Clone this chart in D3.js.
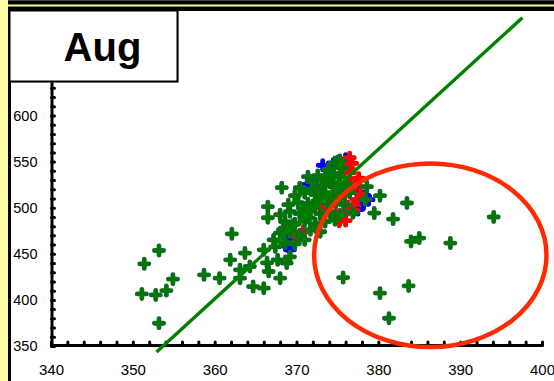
<!DOCTYPE html>
<html><head><meta charset="utf-8">
<script src="https://cdn.jsdelivr.net/npm/d3@7"></script>
<style>html,body{margin:0;padding:0;background:#fff;overflow:hidden}text{font-family:"Liberation Sans",Arial,sans-serif}</style>
</head><body><svg id="c" width="554" height="381"></svg>
<script>
// Monthly scatter: three station series against the reference variable
const monthLabel = "Aug";
const xTicks = [340, 350, 360, 370, 380, 390, 400];
const yTicks = [350, 400, 450, 500, 550, 600];

const seriesBlue = [
  [375.1,550.0],[373.9,543.5],[378.8,508.7],[378.4,512.3],[369.0,457.9],[372.5,530.4],
  [369.2,454.3],[369.0,466.8],[374.5,547.0],[377.6,517.0],[371.3,525.0],[376.0,552.5],[377.5,498.0],
  [373.2,546.0],[378.2,504.0]
];
const seriesRed = [
  [376.5,554.3],[374.1,538.0],[376.5,538.0],[376.5,527.2],[376.3,501.1],[375.0,490.2],[377.4,508.7],
  [372.5,519.6],[370.1,468.5],[375.9,514.0],[377.2,525.0],[375.6,546.7],[374.8,492.4],[373.5,530.4],
  [370.8,473.9],[376.0,486.0],[377.0,497.0],[373.0,500.0],[375.0,520.0],[374.0,510.0],[376.5,541.3],
  [375.3,487.0],[375.2,485.5],[377.6,532.0],[377.8,515.0],[376.8,548.0],[377.0,503.0],[375.8,493.0]
];
const seriesGreen = [
  // main cluster
  [374.7,548.9],[375.3,551.1],[373.9,541.3],[375.6,543.0],
  [372.6,534.8],[373.5,532.6],[374.5,537.0],[375.3,533.7],[371.4,533.7],
  [370.4,521.7],[371.9,528.3],[373.1,523.9],[374.1,527.2],[375.1,523.9],[376.1,526.1],[368.2,521.7],
  [369.8,513.0],[371.0,516.3],[372.3,514.1],[373.5,516.3],[374.5,513.0],[375.6,515.2],[376.5,516.3],
  [369.0,503.3],[370.2,505.4],[371.4,504.3],[372.6,507.6],[373.9,504.3],[374.8,506.5],[375.9,503.3],[378.4,508.7],
  [368.0,492.4],[369.2,495.7],[370.4,493.5],[371.7,496.7],[372.9,493.5],[374.1,495.7],[375.3,492.4],[366.5,489.1],[366.5,501.1],
  [368.6,484.8],[369.8,482.6],[371.0,485.9],[372.3,482.6],[373.5,484.8],[374.7,487.0],[376.9,494.6],
  [368.0,472.8],[369.2,473.9],[370.4,470.7],[371.7,476.1],[372.9,473.9],
  [368.6,462.0],[369.8,460.9],[367.4,457.6],[371.0,465.2],
  [368.35,476.1],[369.6,481.5],[369.2,446.7],[367.7,443.5],[366.4,440.2],
  [374.5,533.7],[378.6,522.8],[372.0,520.0],[373.0,511.0],[372.0,502.0],[370.8,499.0],[371.5,489.0],
  // lower-left scatter
  [351.4,439.1],[353.2,453.6],[354.9,422.5],[351.1,406.5],[352.8,405.4],[354.1,410.1],[353.2,374.7],
  [358.7,427.2],[360.6,423.6],[362.1,471.7],[361.9,443.5],[363.7,450.8],[363.1,432.6],[364.3,436.2],
  [363.1,423.6],[364.7,414.5],[366.0,412.7],[366.6,430.8],[368.0,423.6],[368.8,439.9],[366.0,454.3],[367.2,465.2],
  // departures to the right
  [380.2,513.0],[383.5,505.1],[379.5,494.2],[381.8,487.7],[394.1,489.9],[384.0,463.4],
  [385.0,467.1],[388.8,461.6],[375.7,424.2],[380.2,407.3],[383.7,415.2],[381.3,380.1]
];
const fitLine = [[352.9, 343.5], [397.6, 706.0]];
const highlight = { cx: 386.35, cy: 448.4, rx: 14.2, ry: 99.5 };

const svg = d3.select("#c");
const W = 554, H = 381;

// page frame
svg.append("rect").attr("x",0).attr("y",0).attr("width",W).attr("height",H).attr("fill","#fff");
svg.append("rect").attr("x",0).attr("y",0).attr("width",8).attr("height",H).attr("fill","#fffaa6");
svg.append("rect").attr("x",8).attr("y",0).attr("width",3).attr("height",H).attr("fill","#000");
svg.append("rect").attr("x",8).attr("y",0).attr("width",W-8).attr("height",11).attr("fill","#000");
svg.append("rect").attr("x",8).attr("y",0).attr("width",W-8).attr("height",1).attr("fill","#444");
svg.append("rect").attr("x",8).attr("y",4.5).attr("width",W-8).attr("height",2).attr("fill","#fff59a");

const x = d3.scaleLinear().domain([340, 400]).range([51, 542]);
const y = d3.scaleLinear().domain([350, 700]).range([346, 23.3]);

const axStyle = g => {
  g.selectAll("path.domain").attr("stroke","#000").attr("stroke-width",3).attr("stroke-linecap","round");
  g.selectAll(".tick line").attr("stroke","#000").attr("stroke-width",3).attr("stroke-linecap","round");
};

// minor ticks
svg.append("g").attr("transform","translate(0,345)")
  .call(d3.axisBottom(x).tickValues(d3.range(340, 401, 2)).tickSize(-3).tickSizeOuter(0).tickFormat(""))
  .call(axStyle);
svg.append("g").attr("transform","translate(51.5,0)")
  .call(d3.axisLeft(y).tickValues(d3.range(350, 701, 10)).tickSize(-3).tickSizeOuter(0).tickFormat(""))
  .call(axStyle);

// tick labels
const xl = svg.append("g").attr("transform","translate(0,345)")
  .call(d3.axisBottom(x).tickValues(xTicks).tickSize(0).tickPadding(19).tickFormat(d3.format("d")));
xl.select("path.domain").remove();
xl.selectAll("text").attr("font-size",15).attr("fill","#000").attr("font-family","Liberation Sans, Arial, sans-serif");

const yl = svg.append("g").attr("transform","translate(51.5,0)")
  .call(d3.axisLeft(y).tickValues(yTicks).tickSize(0).tickPadding(14).tickFormat(d3.format("d")));
yl.select("path.domain").remove();
yl.selectAll("text").attr("font-size",14.5).attr("fill","#000").attr("font-family","Liberation Sans, Arial, sans-serif");

// plus markers
const plus = "M-4.6,0H4.6M0,-4.6V4.6";
function drawSeries(data, color, edge) {
  const g = svg.append("g");
  g.selectAll("path.edge").data(data).join("path").attr("class","edge")
    .attr("d", plus).attr("transform", d => `translate(${x(d[0])},${y(d[1])})`)
    .attr("stroke", edge).attr("stroke-width", 4.8).attr("stroke-linecap","round").attr("fill","none");
  g.selectAll("path.core").data(data).join("path").attr("class","core")
    .attr("d", plus).attr("transform", d => `translate(${x(d[0])},${y(d[1])})`)
    .attr("stroke", color).attr("stroke-width", 3.8).attr("stroke-linecap","round").attr("fill","none");
}
drawSeries(seriesBlue, "#0000ff", "#0000c8");
drawSeries(seriesRed, "#ff0000", "#e00000");
drawSeries(seriesGreen, "#007800", "#2f5f6a");

// fitted line
svg.append("path").datum(fitLine)
  .attr("d", d3.line().x(d => x(d[0])).y(d => y(d[1])))
  .attr("stroke","#008000").attr("stroke-width",3.4).attr("fill","none");

// highlighted region
svg.append("ellipse")
  .attr("cx", x(highlight.cx)).attr("cy", y(highlight.cy))
  .attr("rx", x(highlight.cx + highlight.rx) - x(highlight.cx))
  .attr("ry", y(highlight.cy) - y(highlight.cy + highlight.ry))
  .attr("fill","none").attr("stroke","#ff2a00").attr("stroke-width",4.5);

// month title box
svg.append("rect").attr("x",10.5).attr("y",11.5).attr("width",168).attr("height",71).attr("fill","#aaa");
svg.append("rect").attr("x",9.5).attr("y",10.5).attr("width",168).attr("height",71)
  .attr("fill","#fff").attr("stroke","#000").attr("stroke-width",2);
svg.append("text").attr("x",102.5).attr("y",61).attr("text-anchor","middle")
  .attr("font-size",40).attr("font-weight","bold").attr("fill","#000").text(monthLabel);
</script></body></html>
